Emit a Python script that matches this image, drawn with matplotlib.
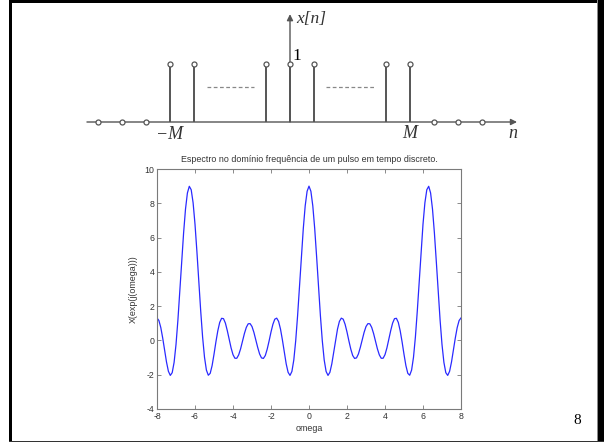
import numpy as np
import matplotlib.pyplot as plt
from matplotlib.patches import Rectangle

# pulse x[n] (top sketch)
n_vals = [-8, -7, -6, -5, -4, -1, 0, 1, 4, 5, 6, 7, 8]
x_vals = [0, 0, 0, 1, 1, 1, 1, 1, 1, 1, 0, 0, 0]
dash_left = [-3.46, -1.5]
dash_right = [1.5, 3.5]
dash_level = 0.6

# spectrum, omega = -8 ... 8 step 0.1
omega = np.linspace(-8, 8, 161)
X_vals = [
    1.31, 1.16, 0.75, 0.14, -0.57, -1.26, -1.80, -2.04, -1.88, -1.28,
    -0.24, 1.18, 2.85, 4.61, 6.27, 7.66, 8.60, 8.99, 8.79, 8.03,
    6.78, 5.19, 3.44, 1.72, 0.20, -0.98, -1.73, -2.03, -1.92, -1.47,
    -0.81, -0.09, 0.56, 1.05, 1.29, 1.27, 1.01, 0.57, 0.06, -0.44,
    -0.83, -1.04, -1.04, -0.84, -0.49, -0.04, 0.40, 0.76, 0.97, 0.98,
    0.81, 0.47, 0.03, -0.41, -0.79, -1.02, -1.05, -0.88, -0.51, -0.03,
    0.49, 0.94, 1.24, 1.30, 1.11, 0.66, 0.03, -0.69, -1.37, -1.86,
    -2.04, -1.81, -1.14, -0.02, 1.45, 3.14, 4.90, 6.53, 7.85, 8.70,
    9.00,
    8.70, 7.85, 6.53, 4.90, 3.14, 1.45, -0.02, -1.14, -1.81, -2.04,
    -1.86, -1.37, -0.69, 0.03, 0.66, 1.11, 1.30, 1.24, 0.94, 0.49,
    -0.03, -0.51, -0.88, -1.05, -1.02, -0.79, -0.41, 0.03, 0.47, 0.81,
    0.98, 0.97, 0.76, 0.40, -0.04, -0.49, -0.84, -1.04, -1.04, -0.83,
    -0.44, 0.06, 0.57, 1.01, 1.27, 1.29, 1.05, 0.56, -0.09, -0.81,
    -1.47, -1.92, -2.03, -1.73, -0.98, 0.20, 1.72, 3.44, 5.19, 6.78,
    8.03, 8.79, 8.99, 8.60, 7.66, 6.27, 4.61, 2.85, 1.18, -0.24,
    -1.28, -1.88, -2.04, -1.80, -1.26, -0.57, 0.14, 0.75, 1.16, 1.31,
]
x_ticks = [-8, -6, -4, -2, 0, 2, 4, 6, 8]
y_ticks = [-4, -2, 0, 2, 4, 6, 8, 10]

W, H = 604, 442
fig = plt.figure(figsize=(W / 100, H / 100), dpi=100)
fig.patch.set_facecolor('white')

# slide frame
def px_rect(x0, y0, x1, y1, color):
    fig.add_artist(Rectangle((x0 / W, 1 - y1 / H), (x1 - x0) / W, (y1 - y0) / H,
                             transform=fig.transFigure, color=color, lw=0, zorder=10))

px_rect(9, 0, 12, H, 'black')
px_rect(9, 0, W, 3, 'black')
px_rect(597, 0, 598, H, '#8a8a8a')
px_rect(598, 0, W, H, 'black')
px_rect(9, 440.5, W, H, '#333333')

# top sketch: x_pix = 290 + 24 n, y_pix = 122 - 58 v
ax0 = fig.add_axes([50 / W, 1 - 150 / H, 504 / W, 145 / H])
ax0.set_xlim((50 - 290) / 24, (554 - 290) / 24)
ax0.set_ylim((122 - 150) / 58, (122 - 5) / 58)
ax0.axis('off')

grey = '#555555'
ax0.annotate('', xy=(9.46, 0), xytext=(-8.46, 0),
             arrowprops=dict(arrowstyle='-|>', color=grey, lw=1.0,
                             mutation_scale=9, shrinkA=0, shrinkB=0))
ax0.annotate('', xy=(0, 1.86), xytext=(0, 0),
             arrowprops=dict(arrowstyle='-|>', color=grey, lw=1.0,
                             mutation_scale=9, shrinkA=0, shrinkB=0))
ax0.vlines(n_vals, 0, x_vals, color=grey, lw=1.4, zorder=2)
ax0.plot(n_vals, x_vals, 'o', ms=3.6, mfc='white', mec=grey, mew=0.9, zorder=3)
ax0.plot(dash_left, [dash_level] * 2, ls=(0, (3, 2)), color='#888888', lw=0.9)
ax0.plot(dash_right, [dash_level] * 2, ls=(0, (3, 2)), color='#888888', lw=0.9)

serif = 'Liberation Serif'
ax0.text(0.25, 1.78, 'x[n]', family=serif, style='italic', fontsize=12.5,
         va='center', ha='left', color='#333333')
ax0.text(0.1, 1.13, '1', family=serif, fontsize=12.5, va='center', ha='left')
ax0.text(-5.0, -0.22, '\u2212M', family=serif, style='italic', fontsize=13,
         va='center', ha='center', color='#333333')
ax0.text(5.0, -0.19, 'M', family=serif, style='italic', fontsize=13,
         va='center', ha='center', color='#333333')
ax0.text(9.3, -0.19, 'n', family=serif, style='italic', fontsize=13,
         va='center', ha='center', color='#333333')

# spectrum plot
ax = fig.add_axes([157 / W, 1 - 409 / H, 304 / W, 240 / H])
ax.plot(omega, X_vals, color='#2a2aff', lw=0.9)
ax.set_xlim(-8, 8)
ax.set_ylim(-4, 10)
ax.set_xticks(x_ticks)
ax.set_yticks(y_ticks)

sans = 'Liberation Sans'
ax.set_xticklabels([str(t) for t in x_ticks], family=sans, fontsize=6.3, color='#333333')
ax.set_yticklabels([str(t) for t in y_ticks], family=sans, fontsize=6.3, color='#333333')
ax.tick_params(direction='in', length=3, width=0.6, color='#777777',
               top=True, right=True, pad=2)
for sp in ax.spines.values():
    sp.set_color('#7a7a7a')
    sp.set_linewidth(0.8)

ax.set_title('Espectro no dom\u00ednio frequ\u00eancia de um pulso em tempo discreto.',
             family=sans, fontsize=6.4, color='#333333', pad=5)
ax.set_xlabel('omega', family=sans, fontsize=6.4, color='#333333', labelpad=2)
ax.set_ylabel('X(exp(j(omega)))', family=sans, fontsize=6.4, color='#333333', labelpad=5)

fig.text(577 / W, 1 - 421 / H, '8', family=serif, fontsize=11, ha='center', va='center')

fig.savefig('out.png', dpi=100)
